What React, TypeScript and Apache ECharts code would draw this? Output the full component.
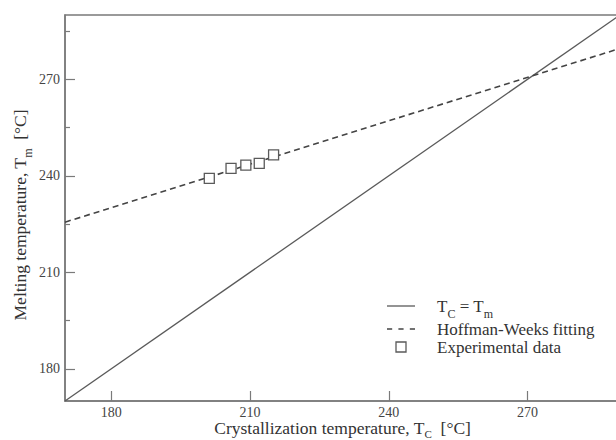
import React, { useEffect, useRef } from "react";
import * as echarts from "echarts";

const identityX = [170, 290];
const identityY = [170, 290];
const fitX = [170, 290];
const fitY = [225.6, 279.6];
const expTc = [201.2, 205.9, 209.1, 212.0, 215.1];
const expTm = [239.2, 242.3, 243.3, 243.9, 246.5];
const majorTicks = [180, 210, 240, 270];
const minorTicksY = [195, 225, 255, 285];
const seriesNames = ["T_C = T_m", "Hoffman-Weeks fitting", "Experimental data"];

const FONT = "'Liberation Serif', 'DejaVu Serif', serif";
const LINE = "#5a5a5a";
const AXIS = "#7a7a7a";

export default function App() {
  const ref = useRef<HTMLDivElement>(null);
  useEffect(() => {
    if (!ref.current) return;
    const chart = echarts.init(ref.current, undefined, { renderer: "svg" });
    const sub = { fontSize: 12, fontFamily: FONT, color: "#333", verticalAlign: "bottom", padding: [0, 0, -5, 0] };
    const subX = { fontSize: 11, fontFamily: FONT, color: "#333", verticalAlign: "bottom", padding: [0, 0, -2, 0] };
    chart.setOption({
      animation: false,
      backgroundColor: "#fff",
      grid: {
        left: 65, right: -4, top: 15, bottom: 39,
        outerBoundsMode: "none", containLabel: false,
        show: true, borderColor: AXIS, borderWidth: 1.5, backgroundColor: "transparent",
      },
      legend: {
        orient: "vertical",
        left: 382,
        top: 292,
        itemWidth: 28,
        itemHeight: 10,
        itemGap: 0,
        data: [
          { name: seriesNames[0], icon: "path://M0,0h28v1.3h-28z", itemStyle: { color: LINE } },
          { name: seriesNames[1], icon: "path://M0,0h5v1.6h-5z M11,0h5v1.6h-5z M22,0h5v1.6h-5z", itemStyle: { color: "#444" } },
          { name: seriesNames[2], icon: "path://M0,0h10v10h-10z", itemStyle: { color: "#fff", borderColor: LINE, borderWidth: 1.3 } },
        ],
        formatter: (n: string) => (n === seriesNames[0] ? "T{sub|C} = T{sub|m}" : n),
        textStyle: { fontSize: 17, fontFamily: FONT, color: "#333", lineHeight: 18, padding: [0, 0, 0, 17], rich: { sub } },
      },
      xAxis: [
        {
          type: "value",
          min: 170,
          max: 290,
          position: "bottom",
          splitLine: { show: false },
          axisLine: { lineStyle: { color: AXIS, width: 1.5 } },
          axisTick: { inside: true, length: 10, customValues: majorTicks, lineStyle: { color: AXIS, width: 1.2 } },
          axisLabel: { customValues: majorTicks, fontSize: 14, fontFamily: FONT, color: "#444", margin: 4 },
          name: "Crystallization temperature, T{sub|C}  [°C]",
          nameLocation: "middle",
          nameGap: 18,
          nameMoveOverlap: false,
          nameTextStyle: { fontSize: 17.5, fontFamily: FONT, color: "#333", verticalAlign: "top", rich: { sub: subX } },
        },
      ],
      yAxis: [
        {
          type: "value",
          min: 170,
          max: 290,
          position: "left",
          splitLine: { show: false },
          axisLine: { lineStyle: { color: AXIS, width: 1.5 } },
          axisTick: { inside: true, length: 10, customValues: majorTicks, lineStyle: { color: AXIS, width: 1.2 } },
          axisLabel: { customValues: majorTicks, fontSize: 14, fontFamily: FONT, color: "#444", margin: 5 },
          name: "Melting temperature, T{sub|m}  [°C]",
          nameLocation: "middle",
          nameRotate: 90,
          nameGap: 36,
          nameMoveOverlap: false,
          nameTextStyle: { fontSize: 17.5, fontFamily: FONT, color: "#333", padding: [0, 14, 0, 0], rich: { sub } },
        },
        {
          type: "value",
          min: 170,
          max: 290,
          position: "left",
          splitLine: { show: false },
          axisLine: { show: false },
          axisTick: { inside: true, length: 5, customValues: minorTicksY, lineStyle: { color: AXIS, width: 1.2 } },
          axisLabel: { show: false },
        },
      ],
      series: [
        {
          name: seriesNames[0],
          type: "line",
          symbol: "none",
          data: identityX.map((x, i) => [x, identityY[i]]),
          lineStyle: { color: LINE, width: 1.3 },
          itemStyle: { color: LINE },
        },
        {
          name: seriesNames[1],
          type: "line",
          symbol: "none",
          data: fitX.map((x, i) => [x, fitY[i]]),
          lineStyle: { color: "#444", width: 1.6, type: [6, 4] },
          itemStyle: { color: "#444" },
        },
        {
          name: seriesNames[2],
          type: "scatter",
          symbol: "rect",
          symbolSize: 10,
          z: 5,
          data: expTc.map((x, i) => [x, expTm[i]]),
          itemStyle: { color: "#fff", borderColor: LINE, borderWidth: 1.3, opacity: 1 },
        },
      ],
    });
    return () => chart.dispose();
  }, []);
  return <div ref={ref} style={{ position: "fixed", left: 0, top: 0, width: 616, height: 440 }} />;
}
